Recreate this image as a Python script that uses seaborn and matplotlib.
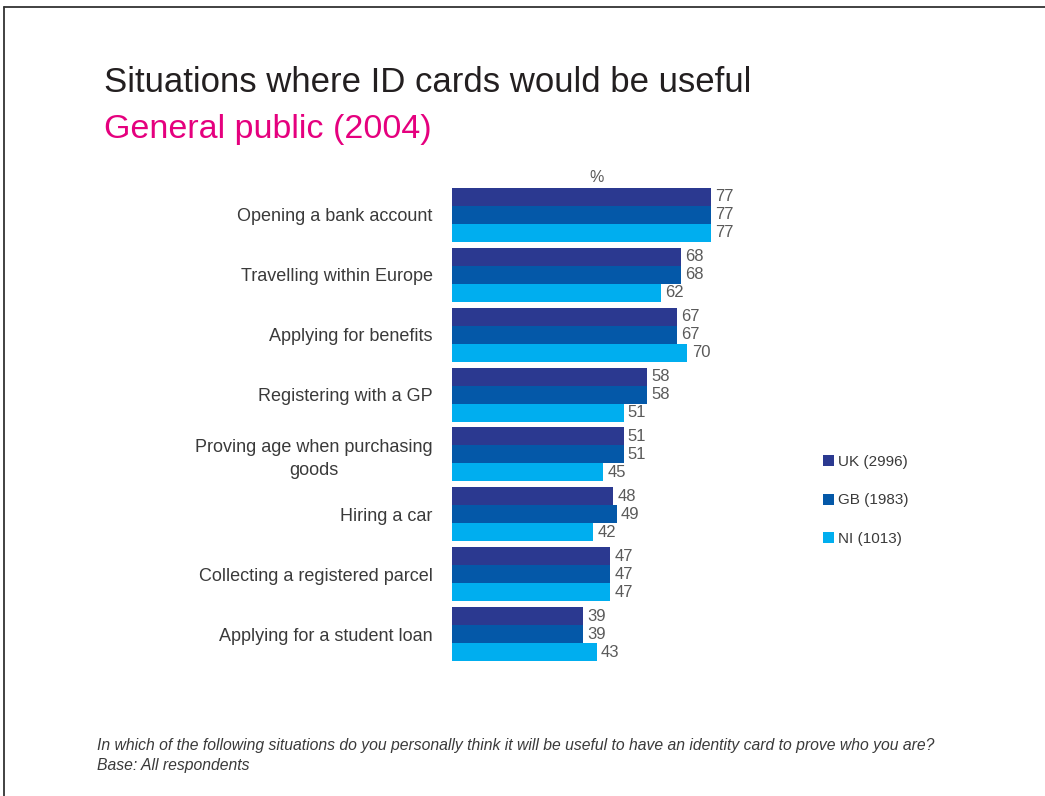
import matplotlib
matplotlib.use("Agg")
import matplotlib.pyplot as plt
from matplotlib.lines import Line2D
from matplotlib.patches import Patch
import seaborn as sns
import pandas as pd

# Survey responses (% of respondents)
situations = [
    "Opening a bank account",
    "Travelling within Europe",
    "Applying for benefits",
    "Registering with a GP",
    "Proving age when purchasing\ngoods",
    "Hiring a car",
    "Collecting a registered parcel",
    "Applying for a student loan",
]
groups = ["UK (2996)", "GB (1983)", "NI (1013)"]
uk = [77, 68, 67, 58, 51, 48, 47, 39]
gb = [77, 68, 67, 58, 51, 49, 47, 39]
ni = [77, 62, 70, 51, 45, 42, 47, 43]
colors = ["#2B3990", "#0458A8", "#00AEEF"]

rows = []
for g, vals in zip(groups, [uk, gb, ni]):
    for s, v in zip(situations, vals):
        rows.append({"situation": s, "group": g, "pct": v})
df = pd.DataFrame(rows)

sns.set_theme(style="white")
plt.rcParams["font.family"] = ["Liberation Sans", "DejaVu Sans"]

W, H = 1045, 796
fig = plt.figure(figsize=(W / 100, H / 100), dpi=100)
ax = fig.add_axes([452 / W, 1 - 664 / H, 336.4 / W, 479 / H])

sns.barplot(
    data=df, y="situation", x="pct", hue="group", orient="h",
    order=situations, hue_order=groups, palette=colors,
    width=0.9, saturation=1, ax=ax, legend=False, linewidth=0,
)

ax.set_xlim(0, 100)
ax.set_ylim(7.5, -0.5)
ax.set_xlabel("")
ax.set_ylabel("")
ax.set_xticks([])
for sp in ax.spines.values():
    sp.set_visible(False)
ax.tick_params(axis="y", length=0, pad=14, labelsize=13, labelcolor="#3a3a3a")
for lab in ax.get_yticklabels():
    lab.set_horizontalalignment("right")
    lab.set_multialignment("center")
    lab.set_linespacing(1.45)

for cont in ax.containers:
    ax.bar_label(cont, fmt="%d", padding=3, fontsize=12, color="#5a5a5a")

ax.text(0.43, 1.0, "%", transform=ax.transAxes, ha="center", va="bottom",
        fontsize=11.5, color="#5a5a5a")

handles = [Patch(facecolor=c, edgecolor="none") for c in colors]
fig.legend(handles, groups, loc="upper left",
           bbox_to_anchor=(823 / W, 1 - 455 / H), frameon=False,
           fontsize=11, labelspacing=1.6, handlelength=0.75,
           handleheight=0.75, handletextpad=0.2, borderpad=0,
           borderaxespad=0, labelcolor="#3a3a3a")

fig.text(104 / W, 1 - 92 / H, "Situations where ID cards would be useful",
         fontsize=25, color="#231f20", va="baseline", ha="left")
fig.text(104 / W, 1 - 138 / H, "General public (2004)",
         fontsize=24.5, color="#E5007E", va="baseline", ha="left")

fig.text(97 / W, 1 - 750 / H,
         "In which of the following situations do you personally think it will be useful to have an identity card to prove who you are?",
         fontsize=11.3, style="italic", color="#3a3a3a", va="baseline")
fig.text(97 / W, 1 - 770 / H, "Base: All respondents",
         fontsize=11.3, style="italic", color="#3a3a3a", va="baseline")

# Frame lines along the top and left edges
fig.add_artist(Line2D([4 / W, 1], [1 - 7 / H, 1 - 7 / H], transform=fig.transFigure,
                      color="#333333", linewidth=1.3))
fig.add_artist(Line2D([4 / W, 4 / W], [0, 1 - 7 / H], transform=fig.transFigure,
                      color="#333333", linewidth=1.3))

fig.savefig("out.png", dpi=100, facecolor="white")
